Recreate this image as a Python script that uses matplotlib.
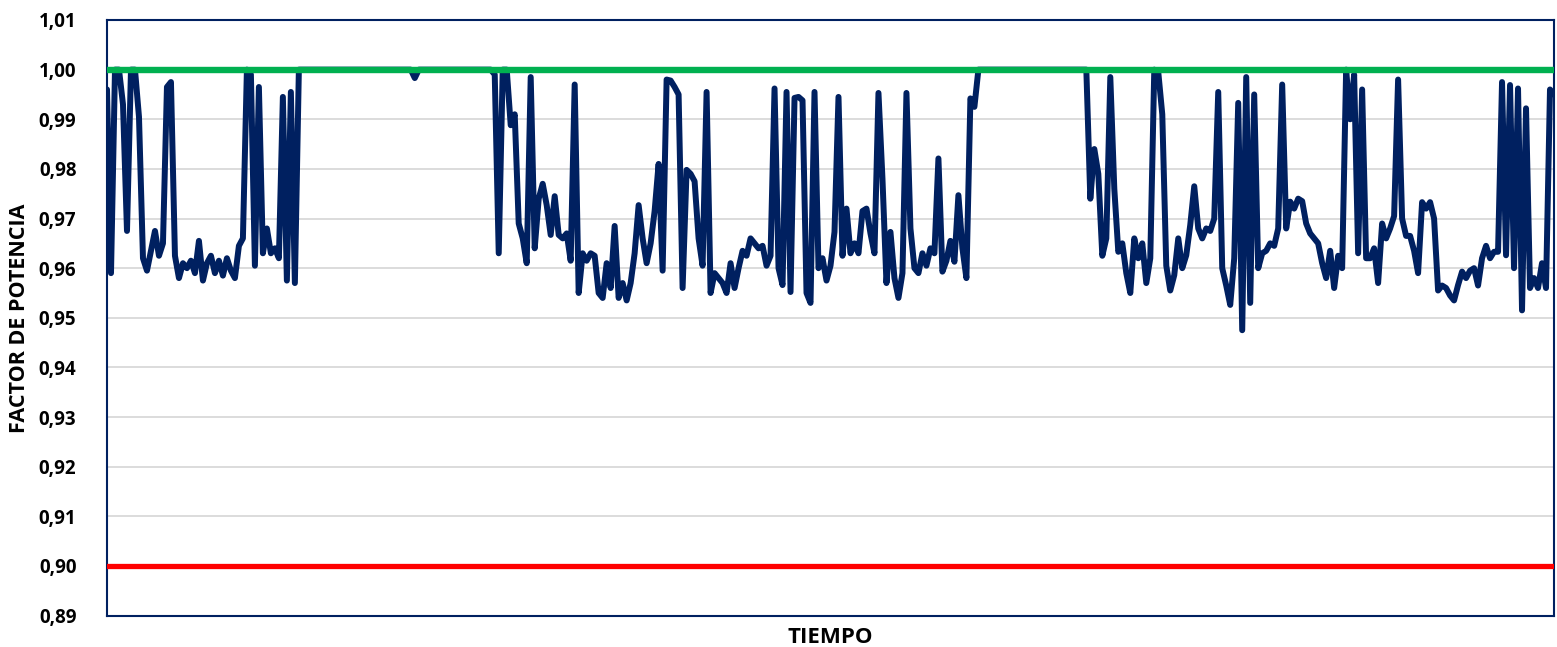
import matplotlib
matplotlib.use("Agg")
import matplotlib.pyplot as plt
import numpy as np
from matplotlib.ticker import FuncFormatter

# Power-factor readings, equally spaced in time
pf_part1 = [
    0.9960, 0.9590, 1.0000, 1.0000, 0.9930, 0.9675, 1.0000, 1.0000, 0.9905, 0.9620,
    0.9595, 0.9635, 0.9675, 0.9625, 0.9650, 0.9965, 0.9975, 0.9625, 0.9580, 0.9610,
    0.9600, 0.9615, 0.9590, 0.9655, 0.9575, 0.9610, 0.9625, 0.9590, 0.9615, 0.9585,
    0.9620, 0.9595, 0.9580, 0.9645, 0.9660, 1.0000, 0.9990, 0.9605, 0.9965, 0.9630,
    0.9680, 0.9630, 0.9640, 0.9620, 0.9945, 0.9575, 0.9955, 0.9570, 1.0000,
]
pf_part2 = [
    1.0000, 1.0000, 1.0000, 1.0000, 1.0000, 1.0000, 1.0000, 1.0000, 1.0000, 1.0000,
    1.0000, 1.0000, 1.0000, 1.0000, 1.0000, 1.0000, 1.0000, 1.0000, 1.0000, 1.0000,
    1.0000, 1.0000, 1.0000, 1.0000, 1.0000, 1.0000, 1.0000, 1.0000, 0.9983, 1.0000,
    1.0000, 1.0000, 1.0000, 1.0000, 1.0000, 1.0000, 1.0000, 1.0000, 1.0000, 1.0000,
    1.0000, 1.0000, 1.0000, 1.0000, 1.0000, 1.0000, 1.0000, 1.0000,
]
pf_part3 = [
    0.9990, 0.9630, 1.0000, 1.0000, 0.9888, 0.9910, 0.9690, 0.9660, 0.9610, 0.9985,
    0.9640, 0.9740, 0.9770, 0.9727, 0.9667, 0.9745, 0.9667, 0.9660, 0.9670, 0.9615,
    0.9970, 0.9550, 0.9630, 0.9615, 0.9630, 0.9625, 0.9550, 0.9540, 0.9610, 0.9560,
    0.9685, 0.9540, 0.9570, 0.9535, 0.9570, 0.9630, 0.9727, 0.9660, 0.9610, 0.9650,
    0.9715, 0.9810, 0.9595, 0.9980, 0.9978, 0.9965, 0.9950, 0.9560, 0.9798, 0.9790,
    0.9775, 0.9660, 0.9605, 0.9955, 0.9550, 0.9590, 0.9580, 0.9570, 0.9550, 0.9610,
    0.9560, 0.9600, 0.9635, 0.9625, 0.9660, 0.9650, 0.9640, 0.9645, 0.9605, 0.9625,
    0.9962, 0.9600, 0.9566, 0.9955, 0.9552, 0.9943, 0.9945, 0.9938, 0.9550, 0.9530,
    0.9955, 0.9600, 0.9620, 0.9575, 0.9605, 0.9673, 0.9945, 0.9625, 0.9720, 0.9630,
    0.9650, 0.9630, 0.9715, 0.9720, 0.9670, 0.9630, 0.9953, 0.9780, 0.9570, 0.9673,
    0.9580, 0.9540, 0.9590, 0.9953, 0.9680, 0.9600, 0.9590, 0.9630, 0.9605, 0.9640,
    0.9630, 0.9821, 0.9593, 0.9615, 0.9655, 0.9613, 0.9747, 0.9640, 0.9580, 0.9942,
    0.9925,
]
pf_part4 = [
    1.0000, 1.0000, 1.0000, 1.0000, 1.0000, 1.0000, 1.0000, 1.0000, 1.0000, 1.0000,
    1.0000, 1.0000, 1.0000, 1.0000, 1.0000, 1.0000, 1.0000, 1.0000, 1.0000, 1.0000,
    1.0000, 1.0000, 1.0000, 1.0000, 1.0000, 1.0000, 1.0000, 1.0000,
]
pf_part5 = [
    0.9740, 0.9840, 0.9790, 0.9625, 0.9660, 0.9985, 0.9760, 0.9633, 0.9650, 0.9590,
    0.9550, 0.9660, 0.9620, 0.9650, 0.9570, 0.9620, 1.0000, 0.9995, 0.9910, 0.9605,
    0.9555, 0.9586, 0.9660, 0.9600, 0.9626, 0.9687, 0.9765, 0.9680, 0.9660, 0.9680,
    0.9675, 0.9700, 0.9955, 0.9600, 0.9565, 0.9526, 0.9620, 0.9933, 0.9475, 0.9985,
    0.9530, 0.9950, 0.9600, 0.9630, 0.9635, 0.9650, 0.9645, 0.9680, 0.9970, 0.9680,
    0.9734, 0.9720, 0.9740, 0.9735, 0.9690, 0.9670, 0.9660, 0.9650, 0.9610, 0.9580,
    0.9635, 0.9560, 0.9625, 0.9600, 1.0000, 0.9900, 0.9990, 0.9630, 0.9960, 0.9620,
    0.9620, 0.9640, 0.9570, 0.9690, 0.9660, 0.9680, 0.9705, 0.9980, 0.9700, 0.9665,
    0.9665, 0.9635, 0.9590, 0.9733, 0.9720, 0.9733, 0.9700, 0.9555, 0.9565, 0.9560,
    0.9545, 0.9535, 0.9566, 0.9593, 0.9580, 0.9595, 0.9600, 0.9565, 0.9620, 0.9645,
    0.9620, 0.9633, 0.9633, 0.9975, 0.9626, 0.9969, 0.9600, 0.9962, 0.9515, 0.9922,
    0.9560, 0.9580, 0.9560, 0.9610, 0.9560, 0.9960, 0.9950,
]
power_factor = pf_part1 + pf_part2 + pf_part3 + pf_part4 + pf_part5

upper_limit = 1.00   # ideal power factor
lower_limit = 0.90   # minimum allowed

y_ticks = [0.89, 0.90, 0.91, 0.92, 0.93, 0.94, 0.95, 0.96, 0.97, 0.98, 0.99, 1.00, 1.01]

navy = "#002060"
green = "#00B050"
red = "#FF0000"

plt.rcParams["font.family"] = ["Open Sans", "DejaVu Sans"]

fig = plt.figure(figsize=(15.57, 6.47), dpi=100)
ax = fig.add_axes([107 / 1557, 1 - 615.6 / 647, (1554 - 107) / 1557, (615.6 - 20) / 647])

t = np.arange(len(power_factor))
ax.plot(t, power_factor, color=navy, lw=4.3, solid_joinstyle="round",
        solid_capstyle="round", zorder=3)
ax.axhline(upper_limit, color=green, lw=4.6, zorder=4)
ax.axhline(lower_limit, color=red, lw=3.8, zorder=4)

ax.set_xlim(0, len(power_factor) - 1)
ax.set_ylim(y_ticks[0], y_ticks[-1])
ax.set_yticks(y_ticks)
ax.yaxis.set_major_formatter(FuncFormatter(lambda v, _: f"{v:.2f}".replace(".", ",")))
ax.set_xticks([])
ax.grid(axis="y", color="#d9d9d9", lw=1.3, zorder=0)
ax.set_axisbelow(True)
ax.tick_params(axis="y", length=0, pad=22, labelsize=13.5)
for lab in ax.get_yticklabels():
    lab.set_fontweight("bold")

for sp in ax.spines.values():
    sp.set_color(navy)
    sp.set_linewidth(1.5)

ax.set_xlabel("TIEMPO", fontsize=16, fontweight="bold", labelpad=8)
ax.set_ylabel("FACTOR DE POTENCIA", fontsize=15.5, fontweight="bold")
ax.yaxis.set_label_coords(-0.0532, 0.5)

fig.savefig("out.png", dpi=100)
